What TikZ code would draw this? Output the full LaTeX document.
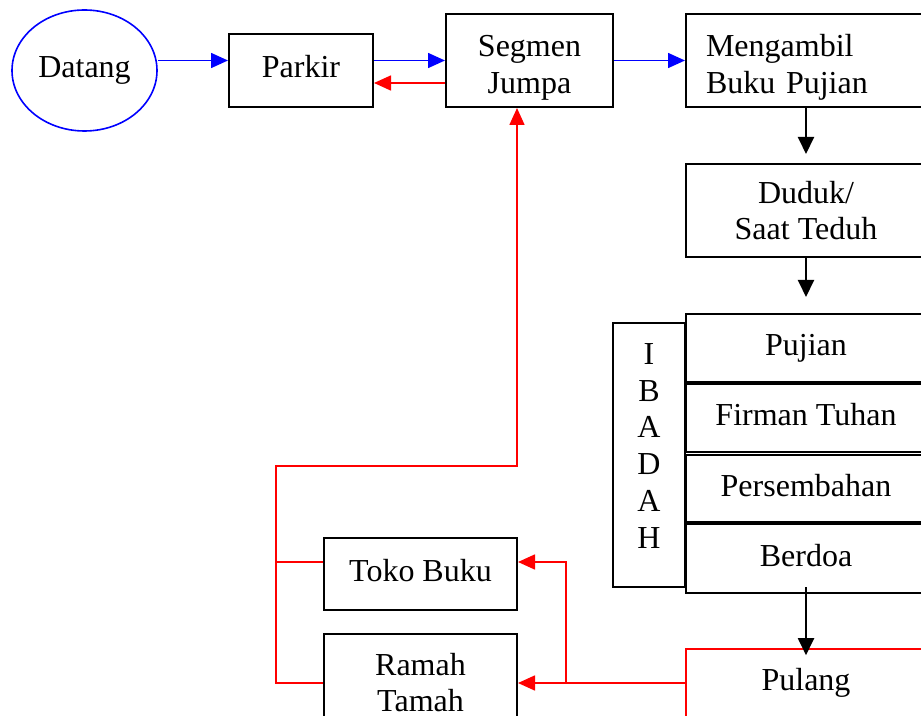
\documentclass[tikz,border=0pt]{standalone}
\usepackage{fontspec}
\setmainfont{Liberation Serif}
\usetikzlibrary{calc,arrows.meta,shapes.geometric}

\begin{document}
\begin{tikzpicture}[x=0.5pt,y=-0.5pt,
		every node/.style={font=\fontsize{16}{18.4}\selectfont},
		kotak/.style={draw,line width=1pt,rectangle,inner sep=0pt},
		satu/.style={text height=11pt,text depth=3.5pt},
		panahbiru/.style={draw=blue,line width=0.8pt,-{Triangle[length=8.5pt,width=7.5pt]}},
		panahmerah/.style={draw=red,line width=0.8pt,-{Triangle[length=8.5pt,width=7.5pt]}},
		garismerah/.style={draw=red,line width=0.8pt},
		panahhitam/.style={draw=black,line width=1pt,-{Triangle[length=8.5pt,width=8pt]}}]
		% column of the right hand boxes
		\pgfmathsetmacro{\kolom}{806}
		\useasboundingbox (0,0) rectangle (921,716);
		\clip (0,0) rectangle (921,716);
		
		% top row
		\node[draw=blue,line width=0.8pt,ellipse,inner sep=0pt,minimum width=72.5pt,minimum height=60.5pt,satu] (datang) at (84.5,70.5) {Datang};
		\node[kotak,satu,minimum width=72pt,minimum height=36.5pt] (parkir) at (301,70.5) {Parkir};
		\node[kotak,align=center,minimum width=83.5pt,minimum height=46.5pt] (segmen) at (529.5,60.5) {\rule{0pt}{17.6pt}Segmen\\Jumpa};
		\node[kotak,align=left,text width=100pt,minimum width=120pt,minimum height=46.5pt] (ambil) at (\kolom,60.5) {\rule{0pt}{17.9pt}Mengambil\\Buku Pujian};
		\node[kotak,align=center,minimum width=120pt,minimum height=46.5pt] (duduk) at (\kolom,210.5) {Duduk/\\Saat Teduh};
		
		% ibadah block
		\node[kotak,satu,minimum width=120pt,minimum height=34pt] (pujian) at (\kolom,348) {Pujian};
		\node[kotak,satu,minimum width=120pt,minimum height=34pt] (firman) at (\kolom,418.5) {Firman Tuhan};
		\node[kotak,satu,minimum width=120pt,minimum height=33.5pt] (persembahan) at (\kolom,488.5) {Persembahan};
		\node[kotak,satu,minimum width=120pt,minimum height=34.5pt] (berdoa) at (\kolom,558.5) {Berdoa};
		\node[kotak,minimum width=36pt,minimum height=132pt] (ibadah) at (649,455) {};
		\node[anchor=north,align=center,inner sep=0pt] (ibadahteks) at (649,343) {I\\B\\A\\D\\A\\H};
		
		% bottom boxes
		\node[kotak,satu,minimum width=96.5pt,minimum height=36pt] (toko) at (420.5,574) {Toko Buku};
		\node[kotak,align=center,minimum width=96.5pt,minimum height=48.5pt] (ramah) at (420.5,682.5) {Ramah\\Tamah};
		\node[draw=red,line width=0.8pt,inner sep=0pt,satu,minimum width=120pt,minimum height=34pt] (pulang) at (\kolom,683) {Pulang};
		
		% arrows of the top row
		\draw[panahbiru] (datang.east |- segmen.west) -- (parkir.west |- segmen.west);
		\draw[panahbiru] (parkir.east |- segmen.west) -- (segmen.west);
		\draw[panahmerah] ($(segmen.west)+(0,22.5)$) -- ($(parkir.east)+(0,12.5)$);
		\draw[panahbiru] (segmen.east) -- (ambil.west);
		
		% down the right column
		\draw[panahhitam,shorten >=4.5pt] (ambil.south) -- (duduk.north);
		\draw[panahhitam,shorten >=8pt] (duduk.south) -- (pujian.north);
		\draw[panahhitam,shorten <=-3.5pt,shorten >=-3.5pt] (berdoa.south) -- (pulang.north);
		
		% way back
		\coordinate (cabang) at ($(ramah.east |- pulang.west)+(48,0)$);
		\coordinate (balik) at (276,466);
		\draw[panahmerah] (pulang.west) -- (ramah.east |- pulang.west);
		\draw[panahmerah] (cabang) |- ($(toko.east)+(0,-12)$);
		\draw[garismerah] ($(toko.west)+(0,-12)$) -- ($(toko.west -| balik)+(0,-12)$);
		\draw[panahmerah] (ramah.west |- pulang.west) -| (balik) -| ($(segmen.south)+(-12.5,0)$);
	\end{tikzpicture}
\end{document}
